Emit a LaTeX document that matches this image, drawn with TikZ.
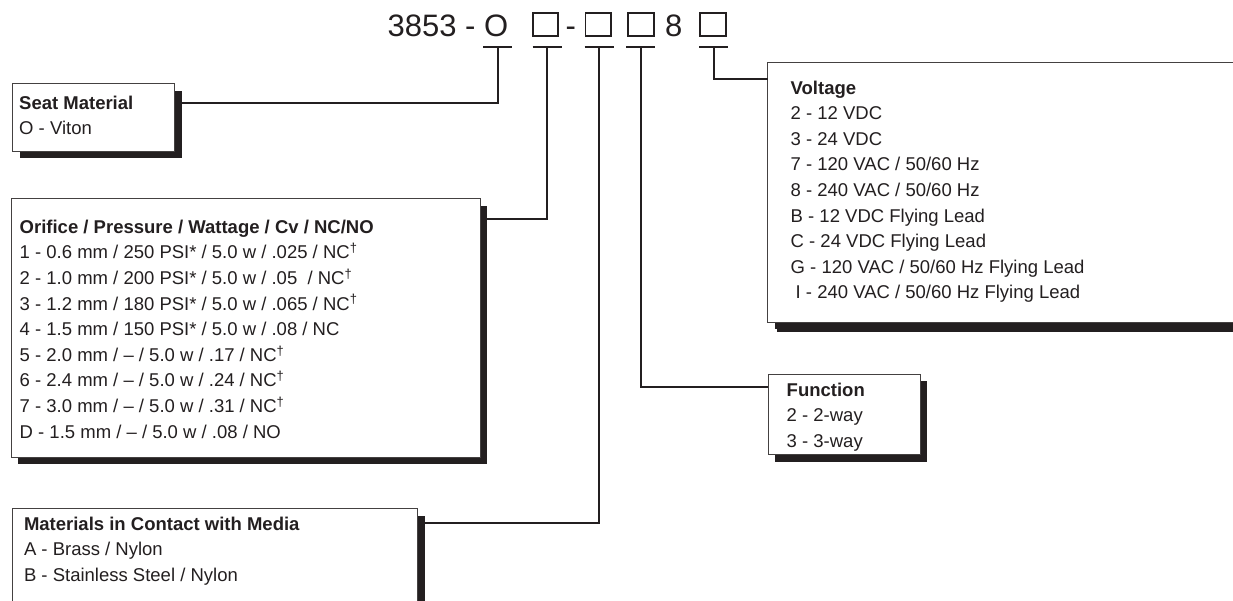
\documentclass[tikz,border=0pt]{standalone}
\usepackage{fontspec}
\setmainfont{Liberation Sans}
\usetikzlibrary{shadows}
\definecolor{ink}{HTML}{231F20}
\begin{document}
\begin{tikzpicture}[x=1pt,y=-1pt,
  frame/.style={draw=ink!85, line width=0.9pt, fill=white, inner sep=0pt, anchor=north west,
     drop shadow={shadow xshift=7pt, shadow yshift=-7pt, fill=ink, opacity=1, shadow scale=1}},
  bigframe/.style={frame, drop shadow={shadow xshift=9pt, shadow yshift=-10pt, fill=ink, opacity=1, shadow scale=1}},
  conn/.style={draw=ink, line width=2pt},
  sq/.style={draw=ink, line width=1.8pt, minimum width=25.6pt, minimum height=23.2pt, inner sep=0pt},
  ttl/.style={font=\fontsize{31}{31}\selectfont, text=ink, inner sep=0pt, anchor=base},
  lbl/.style={font=\fontsize{18.5}{25.6}\selectfont, text=ink, inner sep=0pt, align=left, anchor=base west},
]
\useasboundingbox (0,0) rectangle (1233,600);
\clip (0,0) rectangle (1233,600);

% boxes
\node[frame, minimum width=162pt, minimum height=67.4pt] (seat) at (12.3,83.3) {};
\node[frame, minimum width=469.5pt, minimum height=258.4pt] (orif) at (10.5,198.3) {};
\node[frame, minimum width=405pt, minimum height=130pt] (mat) at (12.3,508.3) {};
\node[frame, minimum width=152.3pt, minimum height=80.3pt] (func) at (767.7,374) {};
\node[bigframe, minimum width=520pt, minimum height=259.4pt] (volt) at (767.3,62.3) {};

% texts (anchor = baseline of the last line)
\node[lbl] (seatT) at (19,134.9) {\textbf{Seat Material}\\O - Viton};
\node[lbl] (orifT) at (19.5,438.1) {\textbf{Orifice / Pressure / Wattage / Cv / NC/NO}\\
1 - 0.6 mm / 250 PSI* / 5.0 w / .025 / NC\textsuperscript{†}\\
2 - 1.0 mm / 200 PSI* / 5.0 w / .05 \ / NC\textsuperscript{†}\\
3 - 1.2 mm / 180 PSI* / 5.0 w / .065 / NC\textsuperscript{†}\\
4 - 1.5 mm / 150 PSI* / 5.0 w / .08 / NC\\
5 - 2.0 mm / – / 5.0 w / .17 / NC\textsuperscript{†}\\
6 - 2.4 mm / – / 5.0 w / .24 / NC\textsuperscript{†}\\
7 - 3.0 mm / – / 5.0 w / .31 / NC\textsuperscript{†}\\
D - 1.5 mm / – / 5.0 w / .08 / NO};
\node[lbl] (matT) at (23.8,581.2) {\textbf{Materials in Contact with Media}\\A - Brass / Nylon\\B - Stainless Steel / Nylon};
\node[lbl] (funcT) at (786.5,447.2) {\textbf{Function}\\2 - 2-way\\3 - 3-way};
\node[lbl] (voltT) at (790.5,298.8) {\textbf{Voltage}\\2 - 12 VDC\\3 - 24 VDC\\7 - 120 VAC / 50/60 Hz\\8 - 240 VAC / 50/60 Hz\\B - 12 VDC Flying Lead\\C - 24 VDC Flying Lead\\G - 120 VAC / 50/60 Hz Flying Lead\\\hspace*{5pt}I - 240 VAC / 50/60 Hz Flying Lead};

% title
\node[ttl, anchor=base west] (code) at (387.5,36.7) {3853 - O};
\node[sq] (s1) at (545.5,24.2) {};
\node[ttl] (d1) at (570.8,36.7) {-};
\node[sq] (s2) at (598.3,24.2) {};
\node[sq] (s3) at (640.8,24.2) {};
\node[ttl] (eight) at (673.8,36.7) {8};
\node[sq] (s4) at (712.8,24.2) {};

% bars under title
\coordinate (bO) at (497.5,46.7);
\coordinate (b1) at (547,46.7);
\coordinate (b2) at (599,46.7);
\coordinate (b3) at (640.7,46.7);
\coordinate (b4) at (713.5,46.7);
\foreach \b in {bO,b1,b2,b3,b4}{
  \draw[conn] ([xshift=-14.5pt]\b) -- ([xshift=14.5pt]\b);
}

% ports on boxes
\coordinate (pSeat) at (181.7,103.3);
\coordinate (pOrif) at (486.7,219.3);
\coordinate (pMat) at (424,523.3);
\coordinate (pFunc) at (767.7,386.7);
\coordinate (pVolt) at (767.7,79.3);

\draw[conn] (bO) |- (pSeat);
\draw[conn] (b1) |- (pOrif);
\draw[conn] (b2) |- (pMat);
\draw[conn] (b3) |- (pFunc);
\draw[conn] (b4) |- (pVolt);
\end{tikzpicture}
\end{document}
